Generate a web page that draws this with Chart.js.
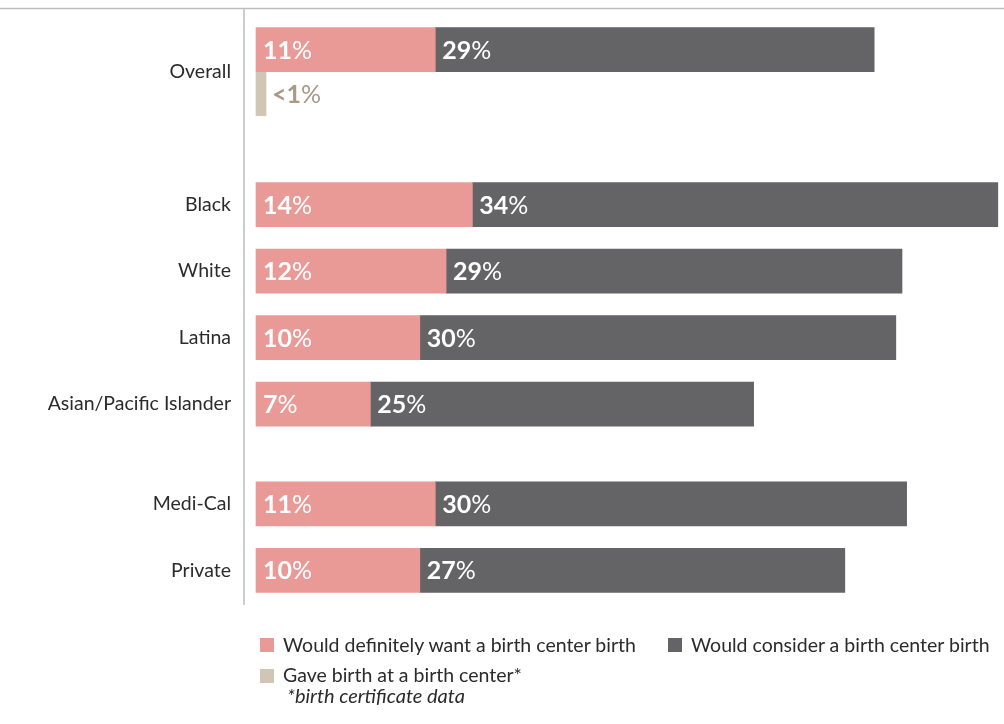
<!DOCTYPE html>
<html>
<head>
<meta charset="utf-8">
<script src="https://cdn.jsdelivr.net/npm/chart.js@4/dist/chart.umd.min.js"></script>
<style>
body { margin: 0; background: #fff; font-family: Lato, sans-serif; }
#wrap { position: relative; width: 1004px; height: 724px; overflow: hidden; }
#chart { position: absolute; left: 0; top: 0; }
.sw { position: absolute; width: 14px; height: 14px; }
.key { position: absolute; font-size: 19.5px; line-height: 22px; color: #2b2b2b; white-space: nowrap; }
.note { font-style: italic; font-size: 20px; }
</style>
</head>
<body>
<div id="wrap">
	<canvas id="chart" width="1004" height="724"></canvas>
	<div class="sw" style="left:260px;top:638px;background:#EA9A96"></div>
	<div class="key" style="left:283px;top:634px">Would definitely want a birth center birth</div>
	<div class="sw" style="left:668px;top:638px;background:#646365"></div>
	<div class="key" style="left:691px;top:634px">Would consider a birth center birth</div>
	<div class="sw" style="left:260px;top:669px;background:#D1C5B6"></div>
	<div class="key" style="left:283px;top:664px">Gave birth at a birth center*</div>
	<div class="key note" style="left:287px;top:684px">*birth certificate data</div>
</div>
<script>
const categories = ['Overall', 'Black', 'White', 'Latina', 'Asian/Pacific Islander', 'Medi-Cal', 'Private'];
const definitelyWant = [11.6, 14.0, 12.3, 10.6, 7.4, 11.6, 10.6];
const wouldConsider = [28.4, 34.0, 29.5, 30.8, 24.8, 30.5, 27.5];
const gaveBirth = [0.65, null, null, null, null, null, null];
const definitelyLabels = ['11%', '14%', '12%', '10%', '7%', '11%', '10%'];
const considerLabels = ['29%', '34%', '29%', '30%', '25%', '30%', '27%'];
const gaveBirthLabels = ['<1%', '', '', '', '', '', ''];

// every row takes two slots on the axis, groups get extra blank slots between them
const rowSlot = [0, 4, 6, 8, 10, 13, 15];
const slotCount = 16;

function spread(arr, blank) {
	var out = new Array(slotCount).fill(blank);
	rowSlot.forEach(function(s, i) { out[s] = arr[i]; });
	return out;
}

function drawPct(ctx, txt, x, y, color) {
	var num = txt.replace('%', '');
	ctx.fillStyle = color;
	ctx.font = 'bold 25px Lato';
	ctx.fillText(num, x, y);
	var w = ctx.measureText(num).width;
	ctx.font = '25px Lato';
	ctx.fillText('%', x + w, y);
}

const barLabels = {
	id: 'barLabels',
	afterDatasetsDraw(chart) {
		var ctx = chart.ctx;
		ctx.save();
		ctx.textBaseline = 'middle';
		ctx.textAlign = 'left';
		chart.data.datasets.forEach(function(ds, di) {
			chart.getDatasetMeta(di).data.forEach(function(bar, i) {
				var txt = ds.valueLabels[i];
				if (!txt) return;
				var x = ds.labelOutside ? bar.x + 6 : bar.base + 7;
				drawPct(ctx, txt, x, bar.y + 1, ds.labelColor);
			});
		});
		ctx.restore();
	}
};

const rules = {
	id: 'rules',
	beforeDraw(chart) {
		var ctx = chart.ctx;
		var area = chart.chartArea;
		ctx.save();
		ctx.strokeStyle = '#bdbdbd';
		ctx.lineWidth = 1.5;
		ctx.beginPath();
		ctx.moveTo(0, 8.5);
		ctx.lineTo(chart.width, 8.5);
		ctx.moveTo(area.left - 12, 8.5);
		ctx.lineTo(area.left - 12, 605);
		ctx.stroke();
		ctx.restore();
	}
};

function generateChart() {
	var ctx = document.getElementById('chart').getContext('2d');
	new Chart(ctx, {
		type: 'bar',
		data: {
			labels: spread(categories, ''),
			datasets: [{
				label: 'Would definitely want a birth center birth',
				data: spread(definitelyWant, null),
				backgroundColor: '#EA9A96',
				stack: 'a',
				clip: false,
				valueLabels: spread(definitelyLabels, ''),
				labelColor: '#ffffff'
			}, {
				label: 'Would consider a birth center birth',
				data: spread(wouldConsider, null),
				backgroundColor: '#646365',
				stack: 'a',
				clip: false,
				valueLabels: spread(considerLabels, ''),
				labelColor: '#ffffff'
			}, {
				label: 'Gave birth at a birth center*',
				data: spread(gaveBirth, null),
				backgroundColor: '#D1C5B6',
				stack: 'b',
				clip: false,
				valueLabels: spread(gaveBirthLabels, ''),
				labelColor: '#A89A86',
				labelOutside: true
			}]
		},
		options: {
			indexAxis: 'y',
			responsive: false,
			animation: false,
			skipNull: true,
			barThickness: 44,
			layout: { padding: { top: 55, bottom: 137, left: 0, right: 0 } },
			plugins: {
				legend: { display: false },
				tooltip: { enabled: false }
			},
			scales: {
				x: { stacked: true, display: false, min: 0, max: 48.4 },
				y: {
					stacked: true,
					grid: { display: false, drawTicks: false },
					border: { display: false },
					ticks: {
						autoSkip: false,
						padding: 25,
						color: '#2b2b2b',
						font: { family: 'Lato', size: 19.5 }
					},
					afterFit: function(scale) { scale.width = 256; }
				}
			}
		},
		plugins: [rules, barLabels]
	});
}

Promise.all([
	document.fonts.load('bold 25px Lato'),
	document.fonts.load('25px Lato'),
	document.fonts.load('19.5px Lato')
]).then(generateChart, generateChart);
</script>
</body>
</html>
